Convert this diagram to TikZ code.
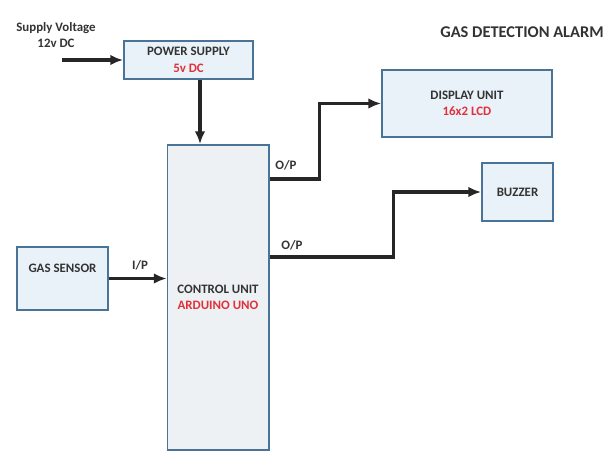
\documentclass[tikz,border=0pt]{standalone}
\usepackage{fontspec}
\setmainfont{Carlito}
\usepackage{tikz}
\usepackage{xcolor}
\usetikzlibrary{arrows.meta,positioning}
\definecolor{boxline}{HTML}{4A7497}
\definecolor{boxfill}{HTML}{EAF2F9}
\definecolor{ctrlfill}{HTML}{EEF1F4}
\definecolor{ink}{HTML}{333333}
\definecolor{redtext}{HTML}{E0303A}
\tikzset{
  block/.style={draw=boxline,fill=boxfill,line width=1.7pt,align=center,
                inner sep=2pt,font=\bfseries\fontsize{11}{14}\selectfont,text=ink},
  sig/.style={-{Latex[length=3.8mm,width=3.2mm]},line width=3pt,draw=black!85},
  tag/.style={font=\bfseries\fontsize{11}{13}\selectfont,text=ink}
}

\begin{document}
\begin{tikzpicture}[x=0.03cm,y=-0.03cm]
    \path[use as bounding box] (0,0) rectangle (615,472);

    \node[tag,font=\bfseries\fontsize{14}{16}\selectfont] (title) at (522,32)
      {GAS DETECTION ALARM};

    \node[block,minimum width=3.87cm,minimum height=1.14cm] (power) at (188.5,60)
      {POWER SUPPLY\\\textcolor{redtext}{5v DC}};
    \node[block,fill=ctrlfill,minimum width=3.03cm,minimum height=9.15cm] (ctrl) at (218,297.5)
      {CONTROL UNIT\\\textcolor{redtext}{ARDUINO UNO}};
    \node[block,minimum width=2.73cm,minimum height=1.89cm] (gas) at (62.5,278.5)
      {GAS SENSOR\\[3pt]\mbox{}};
    \node[block,minimum width=5.10cm,minimum height=2.01cm] (disp) at (467,103.5)
      {DISPLAY UNIT\\\textcolor{redtext}{16x2 LCD}};
    \node[block,minimum width=2.13cm,minimum height=1.74cm] (buzz) at (517.5,192)
      {BUZZER};

    \node[tag,align=center] (supply) at (56,35) {Supply Voltage\\12v DC};
    \coordinate (vin) at (62,60);
    \draw[sig] (vin) -- (power.west);
    \draw[sig] ([xshift=0.345cm]power.south) -- ([xshift=0.345cm]power.south |- ctrl.north);

    \node[tag] (ip) at (140,265) {I/P};
    \draw[sig] (gas.east) -- (ctrl.west |- gas.east);

    \node[tag] (op1) at (286,165) {O/P};
    \draw[sig] ([yshift=3.555cm]ctrl.east) -- ++(50,0) |- (disp.west);

    \node[tag] (op2) at (292,245) {O/P};
    \draw[sig] ([yshift=1.215cm]ctrl.east) -- ++(124,0) |- (buzz.west);
  \end{tikzpicture}
\end{document}
